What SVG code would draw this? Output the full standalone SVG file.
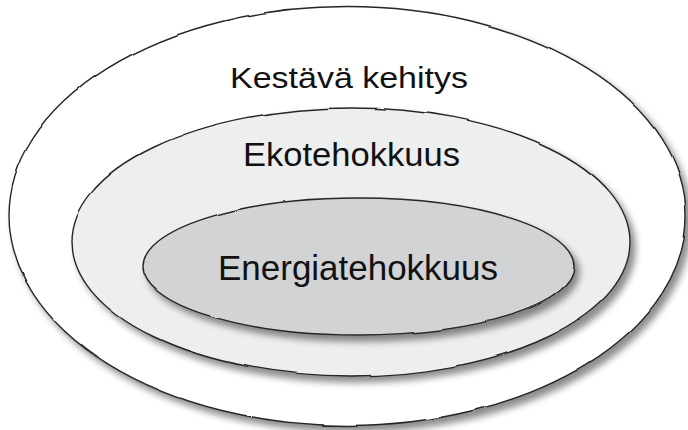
<svg xmlns="http://www.w3.org/2000/svg" width="688" height="430" viewBox="0 0 688 430">
  <defs>
    <!-- slightly hand-drawn outline plus a soft shadow to the lower right -->
    <filter id="rough" x="-10%" y="-10%" width="120%" height="125%">
      <feTurbulence type="fractalNoise" baseFrequency="0.015" numOctaves="2" seed="3" result="noise"/>
      <feDisplacementMap in="SourceGraphic" in2="noise" scale="3" xChannelSelector="R" yChannelSelector="G" result="wobble"/>
      <feGaussianBlur in="SourceAlpha" stdDeviation="3.5" result="blur"/>
      <feOffset in="blur" dx="5" dy="6" result="off"/>
      <feComponentTransfer in="off" result="shadow">
        <feFuncA type="linear" slope="0.45"/>
      </feComponentTransfer>
      <feMerge>
        <feMergeNode in="shadow"/>
        <feMergeNode in="wobble"/>
      </feMerge>
    </filter>
  </defs>
  <style>
    .ring { stroke: #262626; stroke-width: 1.4; filter: url(#rough); }
    .label { font-family: "Liberation Sans", Arial, sans-serif; fill: #111; text-anchor: middle; }
  </style>

  <rect width="688" height="430" fill="#ffffff"/>

  <g id="kestava-kehitys">
    <ellipse class="ring" cx="347.5" cy="216" rx="338.5" ry="209.5" fill="#ffffff"/>
    <text class="label" x="349" y="88" font-size="30" textLength="238" lengthAdjust="spacingAndGlyphs">Kestävä kehitys</text>
  </g>

  <g id="ekotehokkuus">
    <ellipse class="ring" cx="351" cy="242" rx="279" ry="134" fill="#edeeee"/>
    <text class="label" x="351.5" y="166" font-size="33.5" textLength="217" lengthAdjust="spacingAndGlyphs">Ekotehokkuus</text>
  </g>

  <g id="energiatehokkuus">
    <ellipse class="ring" cx="358.5" cy="266.5" rx="215.5" ry="68.5" fill="#d2d3d5"/>
    <text class="label" x="358" y="280" font-size="35" textLength="280" lengthAdjust="spacingAndGlyphs">Energiatehokkuus</text>
  </g>
</svg>
